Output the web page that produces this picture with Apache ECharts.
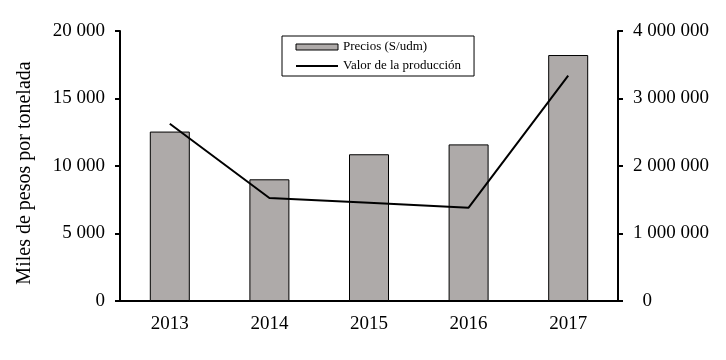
<!DOCTYPE html>
<html>
<head>
<meta charset="utf-8">
<script src="https://cdn.jsdelivr.net/npm/echarts@6/dist/echarts.min.js"></script>
<style>html,body{margin:0;padding:0;background:#fff}#c{width:726px;height:360px}</style>
</head>
<body>
<div id="c"></div>
<script>
var categories = ['2013', '2014', '2015', '2016', '2017'];
var precios = [12550, 9015, 10870, 11600, 18220];
var valorProduccion = [2627000, 1526000, 1455000, 1382000, 3338000];
var leftTicks = [0, 5000, 10000, 15000, 20000];
var rightTicks = [0, 1000000, 2000000, 3000000, 4000000];

function fmt(v) {
  return String(v).replace(/\B(?=(\d{3})+(?!\d))/g, ' ');
}
var serif = '"Liberation Serif", "Times New Roman", serif';
var chart = echarts.init(document.getElementById('c'), null, {renderer: 'canvas'});
chart.setOption({
  animation: false,
  grid: {left: 120, right: 108, top: 31, bottom: 59},
  legend: {
    orient: 'vertical',
    left: 282, top: 36,
    width: 193,
    padding: [4, 13, 3, 13],
    borderColor: '#000', borderWidth: 1,
    itemWidth: 42, itemHeight: 6, itemGap: 5, itemTextGap: 3,
    textStyle: {fontFamily: serif, fontSize: 13, color: '#000', lineHeight: 14},
    data: [
      {name: 'Precios (S/udm)', icon: 'rect', itemStyle: {borderWidth: 1, borderColor: '#000'}},
      {name: 'Valor de la producción', itemStyle: {opacity: 0}}
    ]
  },
  xAxis: {
    type: 'category', data: categories,
    axisLine: {lineStyle: {color: '#000', width: 2}},
    axisTick: {show: false},
    axisLabel: {fontFamily: serif, fontSize: 19, color: '#000', margin: 14}
  },
  yAxis: [{
    type: 'value', min: leftTicks[0], max: leftTicks[leftTicks.length - 1], interval: 5000,
    name: 'Miles de pesos por tonelada', nameLocation: 'middle', nameGap: 85, nameRotate: 90,
    nameTextStyle: {fontFamily: serif, fontSize: 20, color: '#000', padding: [0, 14, 0, 0]},
    axisLine: {show: true, lineStyle: {color: '#000', width: 2}},
    axisTick: {show: true, length: 5, lineStyle: {color: '#000', width: 2}},
    splitLine: {show: false},
    axisLabel: {fontFamily: serif, fontSize: 19, color: '#000', margin: 15, formatter: fmt}
  }, {
    type: 'value', min: rightTicks[0], max: rightTicks[rightTicks.length - 1], interval: 1000000,
    position: 'right',
    axisLine: {show: true, lineStyle: {color: '#000', width: 2}},
    axisTick: {show: true, length: 5, lineStyle: {color: '#000', width: 2}},
    splitLine: {show: false},
    axisLabel: {fontFamily: serif, fontSize: 19, color: '#000', margin: 15,
      formatter: function (v) { return v === 0 ? '  0' : fmt(v); }}
  }],
  series: [{
    name: 'Precios (S/udm)', type: 'bar', data: precios, barWidth: 40,
    itemStyle: {color: '#aeaaa9', borderColor: '#000', borderWidth: 1}
  }, {
    name: 'Valor de la producción', type: 'line', yAxisIndex: 1, data: valorProduccion,
    symbol: 'none', lineStyle: {color: '#000', width: 2}, itemStyle: {color: '#000'}
  }]
});
</script>
</body>
</html>
